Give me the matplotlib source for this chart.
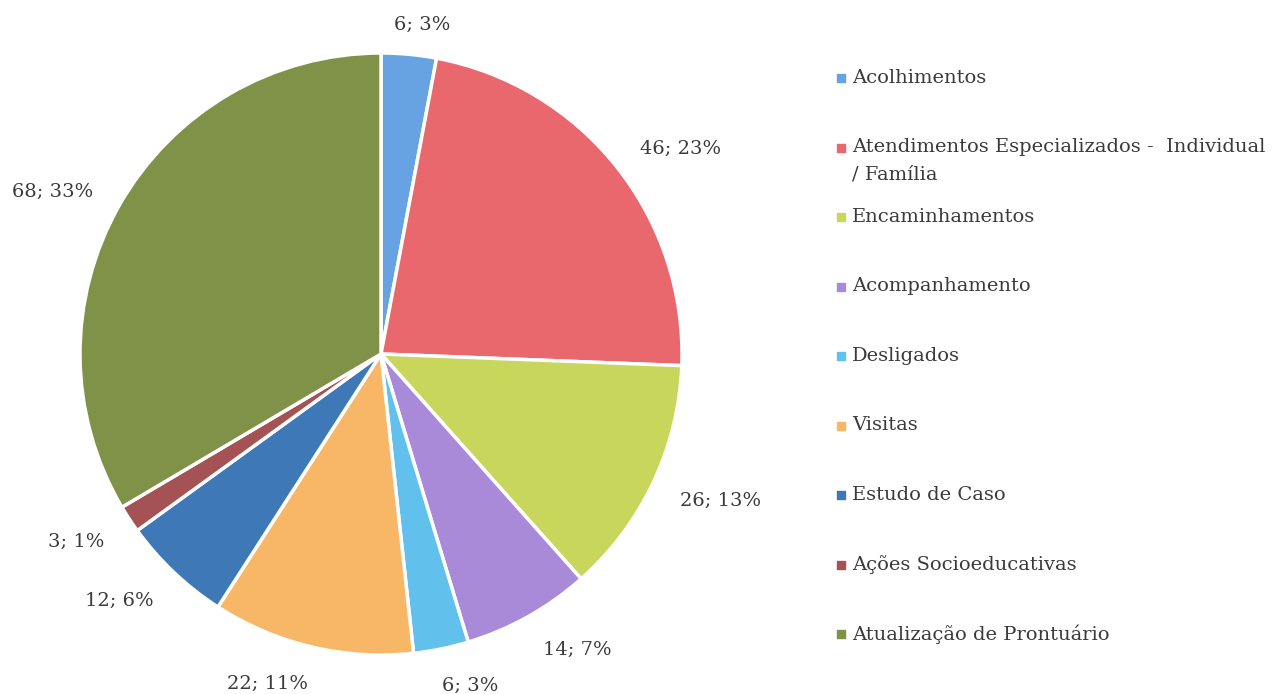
import matplotlib

matplotlib.use("Agg")

import matplotlib.pyplot as plt
import numpy as np

categorias = [
    "Acolhimentos",
    "Atendimentos Especializados -  Individual\n/ Família",
    "Encaminhamentos",
    "Acompanhamento",
    "Desligados",
    "Visitas",
    "Estudo de Caso",
    "Ações Socioeducativas",
    "Atualização de Prontuário",
]
valores = [6, 46, 26, 14, 6, 22, 12, 3, 68]
cores = [
    "#67a2e3",
    "#e8686d",
    "#c8d65c",
    "#a88ad8",
    "#62c0ec",
    "#f8b767",
    "#3e78b6",
    "#a45253",
    "#7f9248",
]

plt.rcParams["font.family"] = ["DejaVu Serif"]
cor_texto = "#3a3a3a"

fig = plt.figure(figsize=(12.73, 6.94), dpi=100)
W, H = 1273, 694
cx, cy, R = 381, 354, 301
ax = fig.add_axes([(cx - R) / W, (H - cy - R) / H, 2 * R / W, 2 * R / H])

fatias, _ = ax.pie(
    valores,
    colors=cores,
    startangle=90,
    counterclock=False,
    wedgeprops=dict(edgecolor="white", linewidth=2.5),
)
ax.set_xlim(-1, 1)
ax.set_ylim(-1, 1)

total = sum(valores)
rotulos = []
for fatia, v in zip(fatias, valores):
    ang = np.deg2rad((fatia.theta1 + fatia.theta2) / 2)
    pct = round(v / total * 100)
    t = ax.text(1.1 * np.cos(ang), 1.1 * np.sin(ang), f"{v}; {pct}%",
                ha="center", va="center", fontsize=14, color=cor_texto)
    rotulos.append((t, ang))

# afasta os rotulos da borda conforme o tamanho da caixa (parecido com o Excel)
fig.canvas.draw()
ren = fig.canvas.get_renderer()
for t, ang in rotulos:
    bb = t.get_window_extent(ren)
    c, s = np.cos(ang), np.sin(ang)
    x, y = t.get_position()
    x += np.sign(c) * min(1.0, abs(c) * 4) * bb.width / 2 / R
    y += (s * bb.height * 0.2 - 4) / R
    t.set_position((x, y))

# legenda desenhada a mao
y0, y1 = 78, 634
leg = fig.add_axes([835 / W, (H - y1) / H, (W - 835) / W, (y1 - y0) / H])
leg.set_xlim(0, W - 835)
leg.set_ylim(len(categorias) - 1, 0)
leg.axis("off")
for i, (nome, cor) in enumerate(zip(categorias, cores)):
    leg.scatter([6], [i], marker="s", s=26, color=cor, clip_on=False)
    leg.annotate(nome, xy=(17, i), xytext=(0, 6.5), textcoords="offset points",
                 ha="left", va="top", fontsize=14, color=cor_texto,
                 linespacing=1.65, annotation_clip=False)

fig.savefig("out.png", dpi=100)
